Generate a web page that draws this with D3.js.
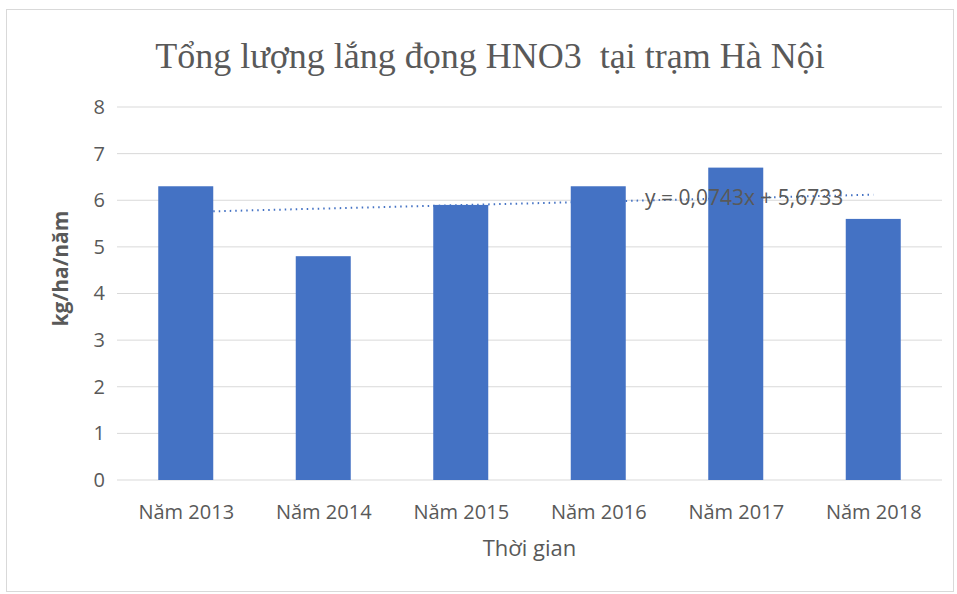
<!DOCTYPE html>
<html><head><meta charset="utf-8">
<script src="https://cdn.jsdelivr.net/npm/d3@7"></script>
<style>body{margin:0;background:#fff;}svg{display:block;}</style>
</head><body>
<svg id="c" width="957" height="594"></svg>
<script>
const categories = ["Năm 2013","Năm 2014","Năm 2015","Năm 2016","Năm 2017","Năm 2018"];
const values = [6.3, 4.8, 5.9, 6.3, 6.7, 5.6];
const yTicks = [0,1,2,3,4,5,6,7,8];
const trendSlope = 0.0743;
const trendIntercept = 5.6733;
const trendLabel = "y = 0,0743x + 5,6733";
const title = "Tổng lượng lắng đọng HNO3  tại trạm Hà Nội";
const yTitle = "kg/ha/năm";
const xTitle = "Thời gian";

const svg = d3.select("#c");
svg.append("rect").attr("x",6.5).attr("y",9.5).attr("width",947).attr("height",582)
  .attr("fill","#fff").attr("stroke","#d9d9d9");

const L=117,R=942,T=107,B=480;
const x = d3.scaleBand().domain(categories).range([L,R]).paddingInner(0.6).paddingOuter(0.3);
const xc = d3.scalePoint().domain(categories).range([L,R]).padding(0.5);
const y = d3.scaleLinear().domain([0,8]).range([B,T]);

svg.append("g").selectAll("line").data(yTicks).join("line")
  .attr("x1",L).attr("x2",R).attr("y1",d=>y(d)).attr("y2",d=>y(d))
  .attr("stroke","#d9d9d9").attr("stroke-width",1);

const yAxis = d3.axisLeft(y).tickValues(yTicks).tickSize(0).tickPadding(0).tickFormat(d3.format("d"));
const ga = svg.append("g").attr("transform",`translate(${L-12},0)`).call(yAxis);
ga.select(".domain").remove();
ga.selectAll("text").attr("font-family","'Open Sans',sans-serif").attr("font-size",20).attr("fill","#595959");

// trendline (behind bars)
const tl = d3.line().x(d=>xc(categories[d])).y(d=>y(trendIntercept+trendSlope*(d+1)));
svg.append("path").datum([0,5]).attr("d",tl).attr("fill","none")
  .attr("stroke","#4472c4").attr("stroke-width",2).attr("stroke-dasharray","1.5,4");

svg.append("g").selectAll("rect").data(values).join("rect")
  .attr("x",(d,i)=>x(categories[i])).attr("width",x.bandwidth())
  .attr("y",d=>y(d)).attr("height",d=>y(0)-y(d)).attr("fill","#4472c4");

svg.append("text").attr("x",645).attr("y",205).text(trendLabel)
  .attr("font-family","'Open Sans',sans-serif").attr("font-size",21).attr("fill","#595959");

const xAxis = d3.axisBottom(xc).tickSize(0).tickPadding(0);
const gx = svg.append("g").attr("transform",`translate(0,${B+39})`).call(xAxis);
gx.select(".domain").remove();
gx.selectAll("text").attr("dy",0).attr("font-family","'Open Sans',sans-serif").attr("font-size",20).attr("fill","#595959");

svg.append("text").attr("x",(L+R)/2).attr("y",556).attr("text-anchor","middle").text(xTitle)
  .attr("font-family","'Open Sans',sans-serif").attr("font-size",22).attr("fill","#595959");

svg.append("text").attr("transform",`translate(68,${(T+B)/2-25}) rotate(-90)`).attr("text-anchor","middle").text(yTitle)
  .attr("font-family","'Open Sans',sans-serif").attr("font-size",21).attr("font-weight","bold").attr("fill","#595959");

svg.append("text").attr("x",490).attr("y",68).attr("text-anchor","middle").text(title)
  .attr("font-family","'Liberation Serif',serif").attr("font-size",36).attr("fill","#595959").style("white-space","pre");
</script>
</body></html>
